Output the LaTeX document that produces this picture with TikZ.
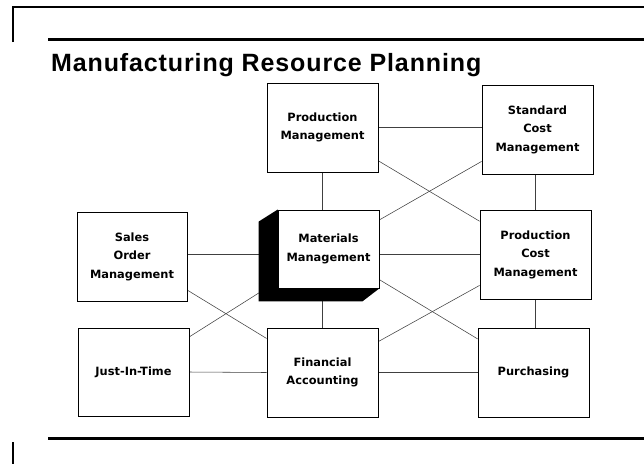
\documentclass[tikz,border=0pt]{standalone}
\usepackage{fontspec}
\newfontfamily\titlefont[LetterSpace=3.5]{Liberation Sans}
\newfontfamily\boxfont{DejaVu Sans}
\usetikzlibrary{calc}
\pgfdeclarelayer{bg}
\pgfsetlayers{bg,main}
\begin{document}
\begin{tikzpicture}[x=1pt,y=-1pt,
  box/.style={draw=black, line width=0.8pt, fill=white, inner sep=0pt,
    minimum width=111pt, minimum height=89pt, align=center,
    font=\boxfont\bfseries\fontsize{11.4}{18.5}\selectfont},
  link/.style={draw=black!75, line width=0.55pt},
  thinrule/.style={line width=1.6pt},
  thickrule/.style={line width=3pt}]
\useasboundingbox (0,0) rectangle (644,464);
% frame
\draw[thinrule] (13,42) -- (13,7) -- (644,7);
\draw[thickrule] (48,39) -- (644,39);
\draw[thickrule] (48,438) -- (644,438);
\draw[thinrule] (13,442) -- (13,464);
% title
\node[anchor=base west, inner sep=0pt,
  font=\titlefont\bfseries\fontsize{25}{30}\selectfont] (title) at (51,71)
  {Manufacturing Resource Planning};
% boxes
\node[box] (pm) at (322.5,127.5) {Production\\Management};
\node[box] (sc) at (537.5,129.5) {Standard\\Cost\\Management};
\node[box, minimum width=110pt] (so) at (132,256.5) {Sales\\Order\\Management};
\node[box, minimum width=101pt, minimum height=78pt] (mm) at (328.5,249) {Materials\\Management};
\node[box] (pc) at (535.5,254.5) {Production\\Cost\\Management};
\node[box, minimum height=88pt] (jit) at (133.5,372) {Just-In-Time};
\node[box] (fa) at (322.5,372.5) {Financial\\Accounting};
\node[box] (pu) at (533.5,372.5) {Purchasing};
\begin{pgfonlayer}{bg}
  % connectors
  \draw[link] (pm.east) -- (pm.east -| sc.west);
  \draw[link] (pm.south) -- (fa.north);
  \draw[link] (pc.north) -- (pc.north |- sc.south);
  \draw[link] (pc.south) -- (pc.south |- pu.north);
  \draw[link] (pm) -- (pc);
  \draw[link] (mm) -- (sc);
  \draw[link] (pc.west) -- (pc.west -| so.east);
  \draw[link] (so) -- (fa);
  \draw[link] (jit) -- (mm);
  \draw[link] (mm) -- (pu);
  \draw[link] (fa) -- (pc);
  \draw[link] (jit.east) -- (fa.west);
  \draw[link] (fa.east) -- (pu.west);
  % 3D shadow of Materials Management
  \fill[black] (mm.north west) -- ++(-19,12) -- ($(mm.south west)+(-19,13)$)
    -- ($(mm.south east)+(-17,13)$) -- (mm.south east) -- cycle;
\end{pgfonlayer}
\end{tikzpicture}
\end{document}
